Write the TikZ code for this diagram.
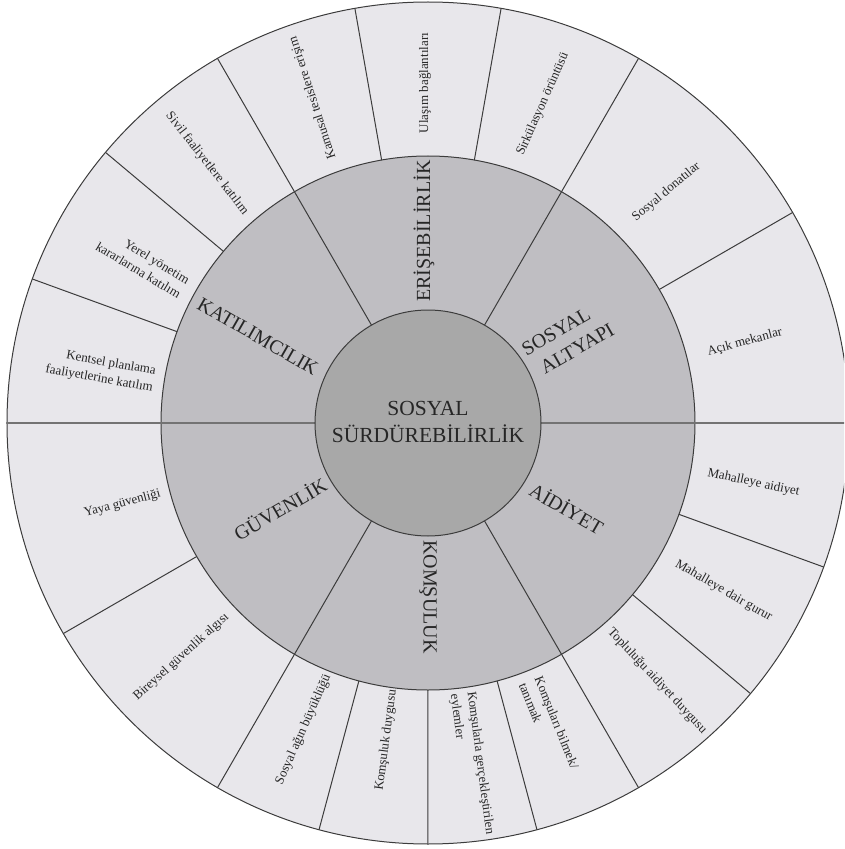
\documentclass[tikz,border=0pt]{standalone}
\usepackage{fontspec}
\setmainfont{Liberation Serif}
\definecolor{rimgray}{HTML}{E8E7EB}
\definecolor{ringgray}{HTML}{BFBEC2}
\definecolor{hubgray}{HTML}{A8A8A8}
\definecolor{inkgray}{HTML}{3C3C3C}
\tikzset{
    wheeledge/.style={draw=inkgray, line width=1pt},
    divline/.style={draw=inkgray, line width=1pt},
    axisline/.style={draw=black!55, line width=1.7pt},
    hubtext/.style={align=center, inner sep=0pt, text=black!85,
        font=\fontsize{21.5}{26.5}\selectfont},
    ringtext/.style={inner sep=0pt, text=black!85,
        font=\fontsize{20}{24}\selectfont},
    rimtext/.style={inner sep=0pt, text=black!85,
        font=\fontsize{13}{17}\selectfont}
}

\begin{document}
\begin{tikzpicture}
\useasboundingbox (-428pt,-426pt) rectangle (416pt,423pt);
\clip (-428pt,-426pt) rectangle (416pt,423pt);
% rings
\filldraw[wheeledge, fill=rimgray] (0,0) circle[radius=421pt];
\filldraw[wheeledge, fill=ringgray] (0,0) circle[radius=267pt];
% spokes through both rings
\draw[axisline] (180:113pt) -- (180:421pt) (0:113pt) -- (0:421pt);
\draw[divline] (60:113pt) -- (60:421pt) (120:113pt) -- (120:421pt)
    (240:113pt) -- (240:421pt) (300:113pt) -- (300:421pt);
% spokes of the outer ring only
\draw[divline] (30:267pt) -- (30:421pt) (80:267pt) -- (80:421pt)
    (100:267pt) -- (100:421pt) (140:267pt) -- (140:421pt)
    (160:267pt) -- (160:421pt) (210:267pt) -- (210:421pt)
    (255:267pt) -- (255:421pt) (270:267pt) -- (270:421pt)
    (285:267pt) -- (285:421pt) (320:267pt) -- (320:421pt)
    (340:267pt) -- (340:421pt);
\filldraw[wheeledge, fill=hubgray] (0,0) circle[radius=113pt];

% centre
\node[hubtext] (hub) at (0pt,1pt) {SOSYAL\\SÜRDÜREBİLİRLİK};

% middle ring
\node[ringtext, rotate=-30] (katilimcilik) at (153:191pt) {KATILIMCILIK};
\node[ringtext, rotate=90] (erisebilirlik) at (91.2:192pt) {ERİŞEBİLİRLİK};
\node[ringtext, rotate=30, align=left, font=\fontsize{20}{25}\selectfont]
    (altyapi) at (30.9:163pt) {SOSYAL\\\hspace*{7pt}ALTYAPI};
\node[ringtext, rotate=-30] (aidiyet) at (-31.4:163pt) {AİDİYET};
\node[ringtext, rotate=-90] (komsuluk) at (-90:174pt) {KOMŞULUK};
\node[ringtext, rotate=30] (guvenlik) at (210:171pt) {GÜVENLİK};

% outer ring
\node[rimtext, rotate=15] (acik) at (14.3:327pt) {Açık mekanlar};
\node[rimtext, rotate=40] (donati) at (44.1:332pt) {Sosyal donatılar};
\node[rimtext, rotate=66] (sirkulasyon) at (70.2:339pt) {Sirkülasyon örüntüsü};
\node[rimtext, rotate=90] (ulasim) at (90.5:340pt) {Ulaşım bağlantıları};
\node[rimtext, rotate=108] (kamusal) at (109.5:345pt) {Kamusal tesislere erişim};
\node[rimtext, rotate=-52] (sivil) at (130.4:341pt) {Sivil faaliyetlere katılım};
\node[rimtext, rotate=-31, align=right] (yerel) at (150.7:327pt)
    {Yerel yönetim\\kararlarına katılım};
\node[rimtext, rotate=-10, align=right] (kentsel) at (170.9:331.5pt)
    {Kentsel planlama\\faaliyetlerine katılım};
\node[rimtext, rotate=15] (yaya) at (194.8:316pt) {Yaya güvenliği};
\node[rimtext, rotate=42] (bireysel) at (223.5:340pt) {Bireysel güvenlik algısı};
\node[rimtext, rotate=66] (sosyalag) at (247.9:331pt) {Sosyal ağın büyüklüğü};
\node[rimtext, rotate=82.5] (duygu) at (262.5:320pt) {Komşuluk duygusu};
\node[rimtext, rotate=-82.5, align=left] (eylem) at (277.3:344pt)
    {Komşularla gerçekleştirilen\\eylemler};
\node[rimtext, rotate=-68, align=left] (bilmek) at (291.8:326pt)
    {Komşuları bilmek/\\tanımak};
\node[rimtext, rotate=-47] (topluluk) at (311.6:345pt) {Topluluğu aidiyet duygusu};
\node[rimtext, rotate=-30] (gurur) at (330.4:340pt) {Mahalleye dair gurur};
\node[rimtext, rotate=-12] (aidiyetm) at (349.6:331pt) {Mahalleye aidiyet};
\end{tikzpicture}
\end{document}
